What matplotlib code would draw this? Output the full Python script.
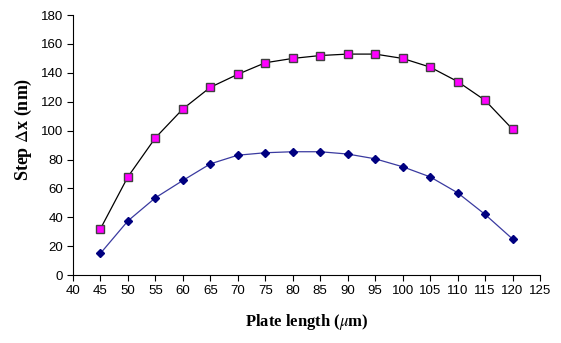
import matplotlib
matplotlib.use("Agg")
import matplotlib.pyplot as plt

# plate length (um) and step (nm)
plate_len = [45, 50, 55, 60, 65, 70, 75, 80, 85, 90, 95, 100, 105, 110, 115, 120]
step_upper = [32, 68, 95, 115, 130, 139, 147, 150, 152, 153, 153, 150, 144, 134, 121, 101]
step_lower = [15, 37.5, 53.5, 65.5, 77, 83, 84.7, 85.4, 85.4, 83.8, 80.5, 75, 68, 57, 42, 25]

xticks = list(range(40, 126, 5))
yticks = list(range(0, 181, 20))

plt.rcParams["mathtext.fontset"] = "stix"

fig = plt.figure(figsize=(5.61, 3.43), dpi=100)
ax = fig.add_axes([0.130, 0.198, 0.8326, 0.758])

ax.plot(plate_len, step_upper, color="black", lw=0.9, marker="s", ms=5.5,
        mfc="#ff00ff", mec="#404040", mew=1.0)
ax.plot(plate_len, step_lower, color="#3a3aa0", lw=0.9, marker="D", ms=4.5,
        mfc="#000080", mec="#000080")

ax.set_xlim(40, 125)
ax.set_ylim(0, 180)
ax.set_xticks(xticks)
ax.set_yticks(yticks)
ax.spines["top"].set_visible(False)
ax.spines["right"].set_visible(False)
ax.tick_params(direction="out", length=4, width=0.8, labelsize=9.5, pad=3)
for lab in ax.get_xticklabels() + ax.get_yticklabels():
    lab.set_family("Liberation Sans")

ax.set_xlabel(r"Plate length ($\mu$m)", family="Liberation Serif",
              fontweight="bold", fontsize=12, labelpad=11)
ax.set_ylabel(r"Step $\Delta$x (nm)", family="Liberation Serif",
              fontweight="bold", fontsize=13, labelpad=5)
ax.yaxis.label.set_y(0.56)

fig.savefig("out.png", dpi=100)
